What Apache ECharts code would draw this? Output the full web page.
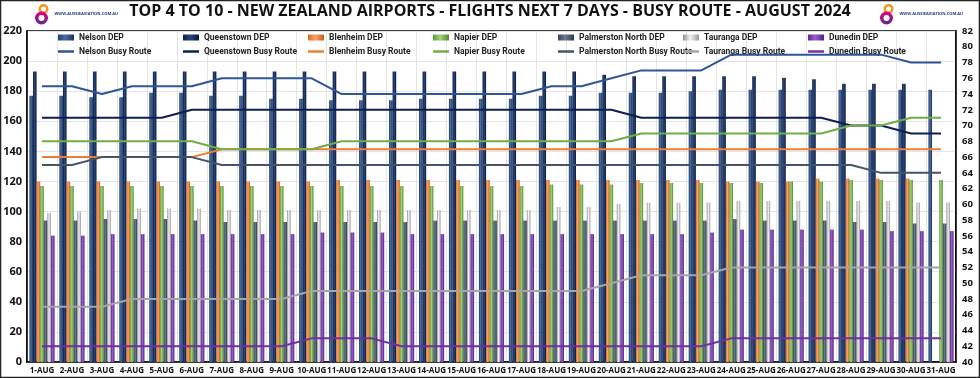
<!DOCTYPE html>
<html style="height: 100%">
    <head>
        <meta charset="utf-8">
    </head>
    <body style="height: 100%; margin: 0; background: #fff;">
        <div id="container" style="width: 980px; height: 378px;"></div>
        <script src="https://cdn.jsdelivr.net/npm/echarts@6/dist/echarts.min.js"></script>
        <script>
        var days = ['1-AUG', '2-AUG', '3-AUG', '4-AUG', '5-AUG', '6-AUG', '7-AUG', '8-AUG', '9-AUG', '10-AUG',
            '11-AUG', '12-AUG', '13-AUG', '14-AUG', '15-AUG', '16-AUG', '17-AUG', '18-AUG', '19-AUG', '20-AUG',
            '21-AUG', '22-AUG', '23-AUG', '24-AUG', '25-AUG', '26-AUG', '27-AUG', '28-AUG', '29-AUG', '30-AUG', '31-AUG'];

        // departures (left axis)
        var nelsonDep = [177, 177, 176, 176, 179, 179, 177, 177, 175, 175, 174, 174, 174, 175, 175, 175, 175, 177, 177, 179, 179, 179, 180, 181, 181, 181, 181, 181, 181, 181, 181];
        var queenstownDep = [193, 193, 193, 193, 193, 193, 193, 193, 193, 193, 193, 193, 193, 193, 193, 193, 193, 193, 193, 191, 190, 190, 190, 190, 190, 189, 188, 185, 185, 185, 0];
        var blenheimDep = [120, 120, 120, 120, 120, 120, 120, 120, 120, 120, 121, 121, 121, 121, 121, 121, 121, 121, 121, 121, 121, 121, 121, 120, 120, 120, 122, 122, 122, 122, 0];
        var napierDep = [117, 117, 117, 117, 117, 117, 117, 117, 117, 117, 117, 117, 117, 117, 117, 117, 117, 118, 118, 118, 119, 119, 119, 119, 119, 120, 120, 121, 121, 121, 121];
        var palmerstonDep = [94, 94, 95, 95, 95, 94, 93, 93, 93, 93, 93, 93, 93, 94, 94, 94, 94, 94, 94, 94, 94, 94, 94, 95, 94, 94, 94, 93, 93, 92, 92];
        var taurangaDep = [99, 100, 101, 102, 102, 102, 101, 101, 101, 101, 101, 101, 101, 101, 101, 101, 101, 103, 103, 105, 106, 106, 106, 107, 107, 107, 107, 107, 107, 106, 106];
        var dunedinDep = [84, 84, 85, 85, 85, 85, 85, 85, 85, 86, 86, 86, 85, 85, 85, 85, 85, 85, 85, 85, 85, 85, 86, 88, 88, 88, 88, 88, 87, 87, 87];

        // busy route (right axis)
        var nelsonBusy = [75, 75, 74, 75, 75, 75, 76, 76, 76, 76, 74, 74, 74, 74, 74, 74, 74, 75, 75, 76, 77, 77, 77, 79, 79, 79, 79, 79, 79, 78, 78];
        var queenstownBusy = [71, 71, 71, 71, 71, 72, 72, 72, 72, 72, 72, 72, 72, 72, 72, 72, 72, 72, 72, 72, 71, 71, 71, 71, 71, 71, 71, 70, 70, 69, 69];
        var blenheimBusy = [66, 66, 66, 66, 66, 66, 67, 67, 67, 67, 67, 67, 67, 67, 67, 67, 67, 67, 67, 67, 67, 67, 67, 67, 67, 67, 67, 67, 67, 67, 67];
        var napierBusy = [68, 68, 68, 68, 68, 68, 67, 67, 67, 67, 68, 68, 68, 68, 68, 68, 68, 68, 68, 68, 69, 69, 69, 69, 69, 69, 69, 70, 70, 71, 71];
        var palmerstonBusy = [65, 65, 66, 66, 66, 66, 65, 65, 65, 65, 65, 65, 65, 65, 65, 65, 65, 65, 65, 65, 65, 65, 65, 65, 65, 65, 65, 65, 64, 64, 64];
        var taurangaBusy = [47, 47, 47, 48, 48, 48, 48, 48, 48, 49, 49, 49, 49, 49, 49, 49, 49, 49, 49, 50, 51, 51, 51, 52, 52, 52, 52, 52, 52, 52, 52];
        var dunedinBusy = [42, 42, 42, 42, 42, 42, 42, 42, 42, 43, 43, 43, 42, 42, 42, 42, 42, 42, 42, 42, 42, 42, 42, 43, 43, 43, 43, 43, 43, 43, 43];

        var airports = ['Nelson', 'Queenstown', 'Blenheim', 'Napier', 'Palmerston North', 'Tauranga', 'Dunedin'];
        var depData = [nelsonDep, queenstownDep, blenheimDep, napierDep, palmerstonDep, taurangaDep, dunedinDep];
        var busyData = [nelsonBusy, queenstownBusy, blenheimBusy, napierBusy, palmerstonBusy, taurangaBusy, dunedinBusy];

        // bar gradient stops (edge, middle, edge) and line colours
        var barColors = [
            ['#233f6e', '#4b6c9e', '#1a3159'],
            ['#0b1d46', '#28467e', '#081638'],
            ['#d9661c', '#f7a66a', '#c95a12'],
            ['#5e9a36', '#9fd37c', '#4f8a2a'],
            ['#37455a', '#6b7a8f', '#2c3849'],
            ['#8f8f8f', '#f2f2f2', '#9a9a9a'],
            ['#5e2590', '#9b5bd0', '#521f80']
        ];
        var lineColors = ['#2f5597', '#0c1f4f', '#ed7d31', '#70ad47', '#44546a', '#a5a5a5', '#7030a0'];

        var chart = echarts.init(document.getElementById('container'));

        var series = [];
        var legends = [];
        var colX = [58, 183, 308, 433, 558, 683, 808];
        var legendText = { fontSize: 8.5, fontWeight: 'bold', color: '#222', fontFamily: 'Roboto' };

        airports.forEach(function (name, i) {
            var c = barColors[i];
            series.push({
                name: name + ' DEP',
                type: 'bar',
                yAxisIndex: 0,
                data: depData[i],
                barGap: '0%',
                barCategoryGap: '16%',
                itemStyle: {
                    color: new echarts.graphic.LinearGradient(0, 0, 1, 0, [
                        { offset: 0, color: c[0] },
                        { offset: 0.45, color: c[1] },
                        { offset: 1, color: c[2] }
                    ])
                }
            });
            legends.push({
                left: colX[i], top: 33, padding: 0,
                itemWidth: 16, itemHeight: 6, itemGap: 2,
                icon: 'rect',
                data: [name + ' DEP'],
                textStyle: legendText
            });
        });

        airports.forEach(function (name, i) {
            series.push({
                name: name + ' Busy Route',
                type: 'line',
                yAxisIndex: 1,
                data: busyData[i],
                symbol: 'none',
                z: 5,
                lineStyle: { color: lineColors[i], width: 2 },
                itemStyle: { color: lineColors[i] }
            });
            legends.push({
                left: colX[i], top: 47, padding: 0,
                itemWidth: 16, itemHeight: 2.5,
                icon: 'rect',
                data: [name + ' Busy Route'],
                textStyle: legendText
            });
        });

        function logo(x) {
            return {
                type: 'group',
                left: x, top: 4,
                children: [{
                    type: 'ring',
                    shape: { cx: 9, cy: 5, r: 5, r0: 2.5 },
                    style: { fill: '#f7941d' }
                }, {
                    type: 'ring',
                    shape: { cx: 7, cy: 14, r: 6.5, r0: 3 },
                    style: {
                        fill: new echarts.graphic.LinearGradient(0, 0, 0, 1, [
                            { offset: 0, color: '#e6007e' },
                            { offset: 1, color: '#5b2a91' }
                        ])
                    }
                }, {
                    type: 'text',
                    style: {
                        text: 'WWW.AUSSIEAVIATION.COM.AU', x: 20, y: 8,
                        font: 'bold 4px "Open Sans"', fill: '#1f3c88'
                    }
                }]
            };
        }

        var option = {
            animation: false,
            backgroundColor: '#fff',
            title: {
                text: 'TOP 4 TO 10 - NEW ZEALAND AIRPORTS - FLIGHTS NEXT 7 DAYS - BUSY ROUTE - AUGUST 2024',
                left: 'center', top: 3, padding: 0,
                textStyle: { fontFamily: 'Open Sans', fontSize: 16, fontWeight: 'bold', color: '#111' }
            },
            graphic: [
                logo(35), logo(880),
                {
                    type: 'rect', z: 100, silent: true,
                    shape: { x: 0.5, y: 0.5, width: 979, height: 377 },
                    style: { fill: 'none', stroke: '#222', lineWidth: 1.5 }
                }
            ],
            legend: legends,
            grid: {
                left: 27, right: 24, top: 31, bottom: 16,
                show: true, borderColor: '#000', borderWidth: 1.5
            },
            xAxis: {
                type: 'category',
                data: days,
                axisLine: { lineStyle: { color: '#000', width: 1.5 } },
                axisTick: { show: false },
                axisLabel: { interval: 0, fontSize: 8, fontWeight: 'bold', color: '#111', fontFamily: 'Open Sans', margin: 5 },
                splitLine: { show: true, lineStyle: { color: '#e4e4e4' } }
            },
            yAxis: [{
                type: 'value', min: 0, max: 220, interval: 20,
                axisLine: { show: true, lineStyle: { color: '#000', width: 1.5 } },
                axisLabel: { fontSize: 11, fontWeight: 'bold', color: '#111', fontFamily: 'Open Sans', margin: 5 },
                splitLine: { lineStyle: { color: '#e4e4e4' } }
            }, {
                type: 'value', min: 40, max: 82, interval: 2,
                axisLine: { show: true, lineStyle: { color: '#000', width: 1.5 } },
                axisLabel: { fontSize: 9.5, fontWeight: 'bold', color: '#111', fontFamily: 'Open Sans', margin: 6 },
                splitLine: { show: false }
            }],
            series: series
        };

        chart.setOption(option);
        </script>
    </body>
</html>
